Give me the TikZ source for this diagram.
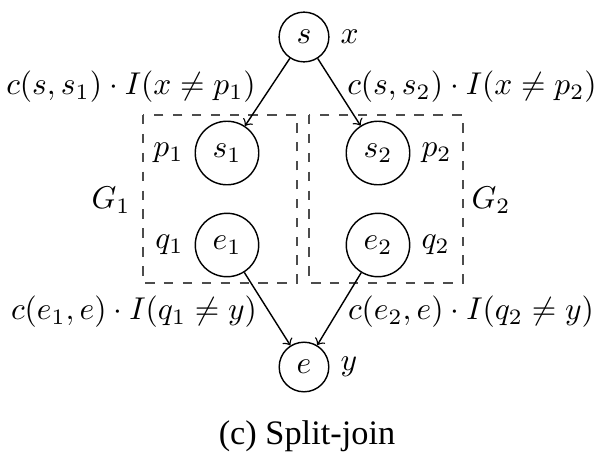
\documentclass[tikz,border=0pt]{standalone}
\usepackage[no-math]{fontspec}
\newfontfamily\capfont{Liberation Serif}
\begin{document}
\begin{tikzpicture}[x=0.3175pt,y=-0.3175pt,
  vtx/.style={draw,circle,line width=0.45pt},
  grp/.style={draw=black!70,dashed,line width=0.45pt},
  edge/.style={->,line width=0.45pt}]
\useasboundingbox (0,0) rectangle (596,460);
\node[vtx,label=right:$x$] (s) at (304,37) {$s$};
\node[vtx,label=left:$p_1$] (s1) at (227,153) {$s_1$};
\node[vtx,label=right:$p_2$] (s2) at (378,153) {$s_2$};
\node[vtx,label=left:$q_1$] (e1) at (227,245) {$e_1$};
\node[vtx,label=right:$q_2$] (e2) at (378,245) {$e_2$};
\node[vtx,label=right:$y$] (e) at (304,367) {$e$};
\coordinate (b1a) at (143,115);
\coordinate (b1b) at (297,283);
\coordinate (b2a) at (309,115);
\coordinate (b2b) at (463,283);
\draw[grp] (b1a) rectangle (b1b);
\draw[grp] (b2a) rectangle (b2b);
\node (g1) at (111,200) {$G_1$};
\node (g2) at (491,200) {$G_2$};
\draw[edge] (s) -- (s1);
\draw[edge] (s) -- (s2);
\draw[edge] (e1) -- (e);
\draw[edge] (e2) -- (e);
\node (l1) at (131,87) {$c(s,s_1)\cdot I(x\neq p_1)$};
\node (l2) at (472,87) {$c(s,s_2)\cdot I(x\neq p_2)$};
\node (l3) at (134,312) {$c(e_1,e)\cdot I(q_1\neq y)$};
\node (l4) at (471,312) {$c(e_2,e)\cdot I(q_2\neq y)$};
\node (cap) at (307,436) {\capfont\fontsize{10.9}{13}\selectfont (c) Split-join};
\end{tikzpicture}
\end{document}
